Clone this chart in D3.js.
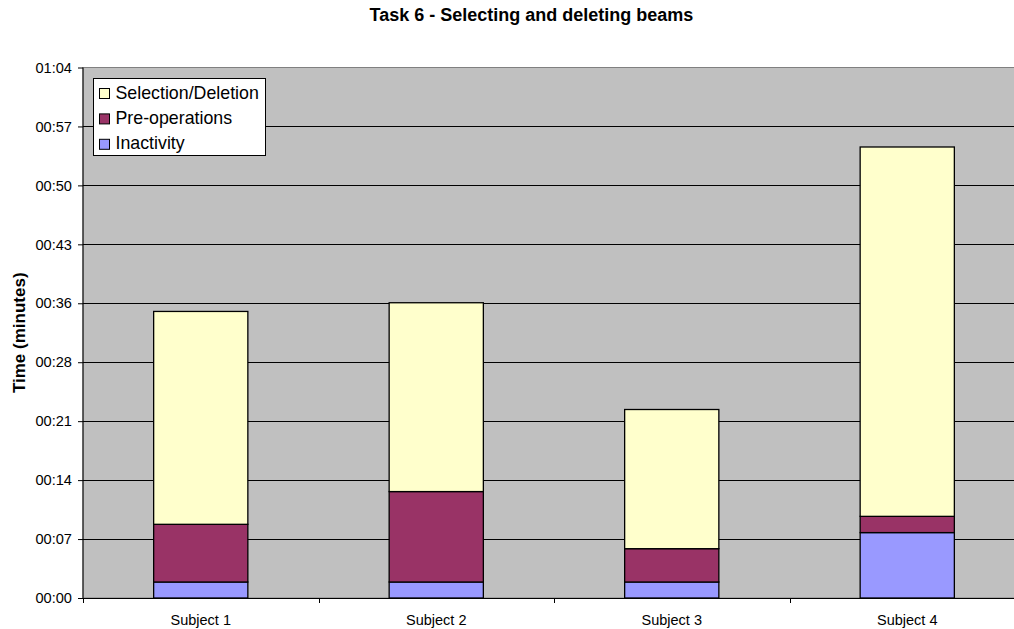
<!DOCTYPE html>
<html>
<head>
<meta charset="utf-8">
<script src="https://cdn.jsdelivr.net/npm/d3@7"></script>
<style>
  body { margin: 0; background: #fff; }
  text { font-family: "Liberation Sans", Arial, sans-serif; fill: #000; }
</style>
</head>
<body>
<div id="chart"></div>
<script>
// data (seconds)
var subjects = ["Subject 1", "Subject 2", "Subject 3", "Subject 4"];
var inactivity = [1.93, 1.93, 1.93, 7.89];
var preOperations = [6.96, 10.91, 4.02, 1.96];
var selectionDeletion = [25.68, 22.78, 16.79, 44.56];
var seriesNames = ["Inactivity", "Pre-operations", "Selection/Deletion"];
var seriesColors = ["#9999FF", "#993366", "#FFFFCC"];
var yTickLabels = ["00:00", "00:07", "00:14", "00:21", "00:28", "00:36", "00:43", "00:50", "00:57", "01:04"];
var yMax = 64;

var width = 1014, height = 629;
var plot = { left: 83, right: 1025, top: 67.5, bottom: 598 };

var svg = d3.select("#chart").append("svg")
  .attr("width", width)
  .attr("height", height);

var x = d3.scaleBand().domain(subjects)
  .range([plot.left, plot.right])
  .paddingInner(0.6)
  .paddingOuter(0.3);

var y = d3.scaleLinear().domain([0, yMax]).range([plot.bottom, plot.top]);

var tickVals = yTickLabels.map(function (d, i) { return i * yMax / (yTickLabels.length - 1); });

// plot area
svg.append("rect")
  .attr("x", plot.left).attr("y", plot.top)
  .attr("width", plot.right - plot.left).attr("height", plot.bottom - plot.top)
  .style("fill", "#C0C0C0")
  .style("stroke", "#808080");

// gridlines
svg.append("g").selectAll("line")
  .data(tickVals.slice(1, -1))
  .enter().append("line")
  .attr("x1", plot.left).attr("x2", plot.right)
  .attr("y1", function (d) { return Math.round(y(d)) + 0.5; })
  .attr("y2", function (d) { return Math.round(y(d)) + 0.5; })
  .style("stroke", "#000")
  .style("stroke-width", 1);

// stacked bars
var rows = subjects.map(function (s, i) {
  return { subject: s, Inactivity: inactivity[i], "Pre-operations": preOperations[i], "Selection/Deletion": selectionDeletion[i] };
});
var stack = d3.stack().keys(seriesNames)(rows);

svg.append("g").selectAll("g")
  .data(stack)
  .enter().append("g")
  .style("fill", function (d, i) { return seriesColors[i]; })
  .selectAll("rect")
  .data(function (d) { return d; })
  .enter().append("rect")
  .attr("x", function (d) { return x(d.data.subject); })
  .attr("width", x.bandwidth())
  .attr("y", function (d) { return y(d[1]); })
  .attr("height", function (d) { return y(d[0]) - y(d[1]); })
  .style("stroke", "#000")
  .style("stroke-width", 1.3);

// y axis
var yAxis = d3.axisLeft(y)
  .tickValues(tickVals)
  .tickSize(5)
  .tickPadding(6)
  .tickFormat(function (d, i) { return yTickLabels[i]; });

var gy = svg.append("g")
  .attr("transform", "translate(" + plot.left + ",0)")
  .call(yAxis);
gy.select(".domain").attr("d", "M0," + plot.top + "V" + plot.bottom).style("stroke", "#000");
gy.selectAll("text").style("font-size", "14.6px").style("font-family", "Liberation Sans, Arial, sans-serif");
gy.selectAll(".tick line").style("stroke", "#000");

// x axis
svg.append("line")
  .attr("x1", plot.left).attr("x2", plot.right)
  .attr("y1", plot.bottom + 0.5).attr("y2", plot.bottom + 0.5)
  .style("stroke", "#000");

var boundaries = d3.range(subjects.length + 1).map(function (i) { return plot.left + i * x.step(); });
svg.append("g").selectAll("line")
  .data(boundaries)
  .enter().append("line")
  .attr("x1", function (d) { return Math.round(d) + 0.5; })
  .attr("x2", function (d) { return Math.round(d) + 0.5; })
  .attr("y1", plot.bottom).attr("y2", plot.bottom + 5)
  .style("stroke", "#000");

svg.append("g").selectAll("text")
  .data(subjects)
  .enter().append("text")
  .attr("x", function (d) { return x(d) + x.bandwidth() / 2; })
  .attr("y", 624.5)
  .attr("text-anchor", "middle")
  .style("font-size", "14.5px")
  .text(function (d) { return d; });

// titles
svg.append("text")
  .attr("x", 531.5).attr("y", 21)
  .attr("text-anchor", "middle")
  .style("font-size", "18px")
  .style("font-weight", "bold")
  .text("Task 6 - Selecting and deleting beams");

svg.append("text")
  .attr("transform", "translate(25," + ((plot.top + plot.bottom) / 2) + ") rotate(-90)")
  .attr("text-anchor", "middle")
  .style("font-size", "17px")
  .style("font-weight", "bold")
  .text("Time (minutes)");

// legend
var legend = svg.append("g");
legend.append("rect")
  .attr("x", 93.5).attr("y", 78.5)
  .attr("width", 172).attr("height", 77)
  .style("fill", "#fff")
  .style("stroke", "#000");

var legendOrder = seriesNames.slice().reverse();
var legendColors = seriesColors.slice().reverse();
var item = legend.selectAll(".item")
  .data(legendOrder)
  .enter().append("g")
  .attr("transform", function (d, i) { return "translate(0," + (i * 25.4) + ")"; });

item.append("rect")
  .attr("x", 99.5).attr("y", 88.5)
  .attr("width", 10).attr("height", 10)
  .style("fill", function (d, i) { return legendColors[i]; })
  .style("stroke", "#000");

item.append("text")
  .attr("x", 115.5).attr("y", 98.5)
  .style("font-size", "17.8px")
  .text(function (d) { return d; });
</script>
</body>
</html>
